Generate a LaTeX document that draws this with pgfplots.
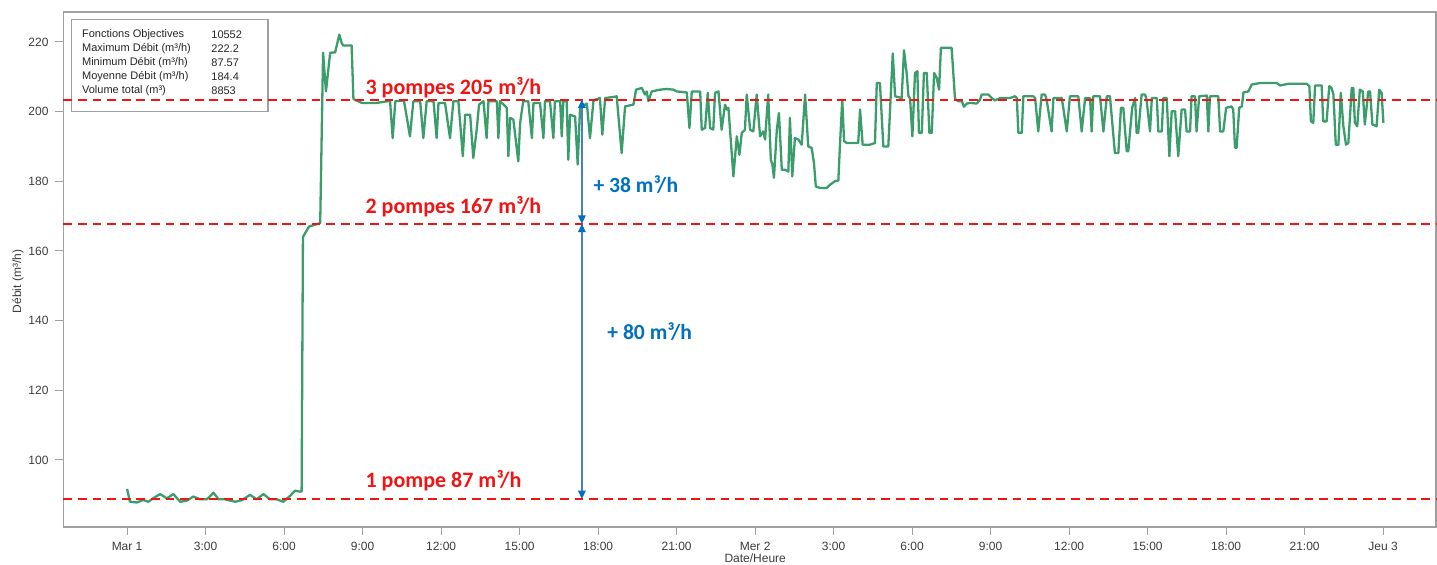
\documentclass[border=0pt]{standalone}
\usepackage{fontspec}
\setmainfont{Liberation Sans}
\newfontfamily\carlito{Carlito}
\usepackage{pgfplots}
\pgfplotsset{compat=1.18}
\usetikzlibrary{arrows.meta}
\definecolor{lgreen}{RGB}{59,157,108}
\definecolor{lred}{RGB}{240,20,20}
\definecolor{lblue}{RGB}{0,112,192}
\definecolor{arrowblue}{RGB}{74,126,192}
\definecolor{axgray}{RGB}{160,160,160}
\definecolor{txtgray}{RGB}{60,60,60}
\begin{document}
\begin{tikzpicture}
\path[use as bounding box] (-31.75pt,-19pt) rectangle (686.75pt,263.5pt);
\draw[axgray, line width=0.6pt, fill=white] (4.1pt,207.65pt) rectangle (102.25pt,253.85pt);
\begin{scope}[every node/.style={anchor=west, inner sep=0pt, font=\fontsize{5.5}{6.6}\selectfont, text=black!85}]
\node at (9.1pt,246.35pt) {Fonctions Objectives};
\node at (9.1pt,239.2pt) {Maximum Débit (m³/h)};
\node at (9.1pt,232.1pt) {Minimum Débit (m³/h)};
\node at (9.1pt,225pt) {Moyenne Débit (m³/h)};
\node at (9.1pt,218pt) {Volume total (m³)};
\node at (73.75pt,246.35pt) {10552};
\node at (73.75pt,239.2pt) {222.2};
\node at (73.75pt,232.1pt) {87.57};
\node at (73.75pt,225pt) {184.4};
\node at (73.75pt,218pt) {8853};
\end{scope}
\begin{axis}[
  at={(0pt,0pt)}, anchor=south west,
  scale only axis, width=686.25pt, height=257.5pt,
  xmin=-2.43, xmax=50.02, ymin=80.76, ymax=228.6,
  xtick={0,3,...,48},
  xticklabels={Mar 1,3:00,6:00,9:00,12:00,15:00,18:00,21:00,Mer 2,3:00,6:00,9:00,12:00,15:00,18:00,21:00,Jeu 3},
  ytick={100,120,...,220},
  /pgf/number format/assume math mode=true,
  xtick pos=bottom, ytick pos=left,
  tick align=outside, major tick length=4pt,
  tick style={axgray, line width=0.5pt},
  axis line style={axgray, line width=0.6pt},
  ticklabel style={font=\fontsize{6}{7}\selectfont, text=txtgray},
  xlabel={Date/Heure}, ylabel={Débit (m³/h)},
  label style={font=\fontsize{6}{7}\selectfont, text=txtgray},
  xlabel style={at={(axis description cs:0.504,-0.06)}, anchor=center},
  ylabel style={at={(axis description cs:-0.0332,0.4767)}, anchor=center, rotate=0},
  clip=false,
]
\addplot[lgreen, line width=1.15pt, line join=round] coordinates {
(0,91.7) (0.11,88.0) (0.37,87.8) (0.62,88.5) (0.81,88.0) (1.0,89.0) (1.26,90.2) (1.52,89.0) (1.77,90.2) (2.03,88.0) (2.28,88.3) (2.53,89.5) (2.79,88.7) (3.05,88.7) (3.30,90.6) (3.5,88.7) (3.75,88.7) (3.95,88.3) (4.14,88.0) (4.40,88.5) (4.70,90.0) (4.95,88.7) (5.21,90.2) (5.46,88.7) (5.72,88.7) (5.97,88.0) (6.23,89.7) (6.42,91.2) (6.61,90.9) (6.67,91.0)
(6.72,164) (6.95,167) (7.38,168) (7.49,216.9) (7.6,205.8) (7.76,216.9) (7.95,217) (8.11,222.1) (8.2,219.7) (8.26,219) (8.58,219) (8.65,203.6) (8.97,202.5) (9.54,202.5) (9.98,203)
(10.05,203) (10.15,192.4) (10.25,203) (10.58,203.2) (10.81,192.9) (10.94,203) (11.2,203) (11.32,192.4) (11.45,203) (11.71,203) (11.83,192.4) (11.9,202.5) (12.15,202.5) (12.34,192.4) (12.47,203) (12.66,203) (12.83,187.2) (12.92,199.1) (13.11,199.1) (13.23,186.7) (13.36,194.8) (13.45,202.0) (13.62,203) (13.74,192.4) (13.81,203) (14.13,203) (14.19,192.4) (14.25,203) (14.51,201.1) (14.57,187.2) (14.64,198.2) (14.76,197.7) (14.95,185.7) (15.02,196.8) (15.14,203) (15.33,203) (15.47,192.4) (15.53,202.5) (15.78,202.5) (15.91,192.4) (15.97,203) (16.16,203) (16.29,192.4) (16.35,203) (16.55,203) (16.61,192.9) (16.67,203) (16.8,203) (16.86,186.2) (16.93,199.1) (17.12,198.6) (17.22,184.8) (17.31,201.1) (17.57,202.3) (17.69,192.4) (17.82,203) (17.88,203.4) (18.07,203.9) (18.16,193.4) (18.27,203.9) (18.58,204.2) (18.71,204.4) (18.90,188.1) (19.03,201.5) (19.35,202) (19.45,206.3) (19.67,206.8) (19.79,204.9) (19.86,205.8) (19.92,203) (20.05,205.8) (20.37,206.3) (20.62,206.5) (20.88,206.3) (21.0,205.8) (21.39,205.5) (21.49,195.3) (21.58,205.8) (21.9,205.8) (21.96,194.8) (22.09,195.3) (22.19,205.4) (22.28,195.3) (22.4,194.8) (22.47,205.4) (22.6,205.8) (22.72,194.8) (22.85,202) (22.92,200.6) (22.98,201.1) (23.17,181.4) (23.3,192.9) (23.4,187.6) (23.49,193.9) (23.61,194.8) (23.68,204.9) (23.81,194.8) (23.93,194.3) (24.06,204.9) (24.19,192.9) (24.31,194.3) (24.38,192) (24.5,204.9) (24.6,186.2) (24.66,184.8) (24.72,181) (24.83,194.8) (24.91,199.6) (25.02,183.3) (25.14,183.3) (25.27,182.8) (25.33,198.2) (25.42,181.4) (25.52,192.4) (25.65,192) (25.78,190.5) (25.91,204.9) (26.03,190) (26.16,189.6) (26.25,185.2) (26.32,178.5) (26.48,178.1) (26.74,178.1) (26.86,179) (27.05,180) (27.18,180.2) (27.24,190) (27.33,203.4) (27.4,191.5) (27.5,191) (27.94,191) (28.01,200.6) (28.11,190.5) (28.39,190.5) (28.58,191) (28.65,208.2) (28.77,208.2) (28.9,190) (29.09,190) (29.26,216.7) (29.35,204.4) (29.6,203.9) (29.69,217.6) (29.79,211.1) (29.86,204.4) (29.92,203.9) (30.01,192.9) (30.11,211.1) (30.2,211.6) (30.26,193.9) (30.37,193.9) (30.45,211.1) (30.56,211.1) (30.66,193.9) (30.75,193.9) (30.84,211.1) (30.94,209.7) (31.03,206.3) (31.1,218.3) (31.51,218.3) (31.64,203.6) (31.77,203) (31.9,203) (31.98,201.4) (32.09,202.3) (32.21,202.5) (32.47,202.3) (32.59,203.4) (32.66,204.9) (32.91,204.9) (33.04,203.9) (33.17,203.2) (33.36,203.9) (33.74,203.9) (33.93,204.4) (34.0,203.9) (34.06,193.9) (34.19,193.9) (34.25,204.4) (34.63,204.4) (34.7,203.9) (34.82,194.3) (34.95,204.9) (35.08,204.9) (35.14,203.4) (35.33,194.3) (35.4,203.9) (35.72,203.9) (35.91,194.3) (36.03,204.4) (36.35,204.4) (36.48,194.3) (36.61,203.9) (36.8,203.9) (36.86,194.3) (36.92,204.4) (37.18,204.4) (37.31,194.3) (37.44,204.4) (37.56,204.4) (37.75,188.1) (37.88,188.1) (37.98,201.1) (38.07,201.1) (38.2,188.6) (38.26,188.6) (38.41,201.1) (38.52,203.9) (38.58,193.9) (38.64,193.9) (38.77,204.9) (38.9,204.9) (38.96,203.4) (39.09,194.3) (39.16,203.9) (39.35,203.9) (39.41,194.3) (39.54,194.3) (39.6,203.9) (39.73,203.9) (39.83,187.2) (39.92,200.1) (40.05,200.1) (40.17,187.2) (40.3,200.6) (40.43,200.6) (40.49,194.3) (40.62,194.3) (40.68,204.4) (40.81,204.4) (40.87,194.3) (40.97,204.4) (41.26,204.6) (41.32,194.3) (41.38,204.4) (41.7,204.4) (41.77,194.3) (41.89,194.3) (42.0,201.1) (42.21,201.5) (42.27,200.6) (42.34,189.6) (42.4,189.6) (42.5,201.1) (42.6,201.5) (42.66,205.5) (42.85,205.8) (42.98,207.8) (43.3,208.2) (43.93,208.2) (44.06,207.5) (44.25,207.8) (44.38,208.0) (45.08,208.0) (45.18,207.3) (45.24,197.2) (45.33,196.8) (45.4,207.5) (45.65,207.5) (45.71,197.2) (45.84,197.2) (45.94,207.3) (46.03,206.8) (46.1,204.9) (46.19,190.5) (46.29,190.5) (46.38,205.4) (46.48,195.8) (46.58,190.5) (46.67,191.0) (46.8,206.8) (46.86,206.8) (46.92,196.8) (47.01,195.8) (47.11,206.3) (47.22,205.8) (47.3,196.3) (47.43,205.8) (47.5,205.8) (47.59,196.3) (47.75,195.8) (47.85,206.3) (47.94,205.4) (48.01,196.8)
};
\addplot[lred, line width=1pt, dash pattern=on 4.4pt off 2.9pt] coordinates {(-2.43,203.45) (50.02,203.45)};
\addplot[lred, line width=1pt, dash pattern=on 4.4pt off 2.9pt] coordinates {(-2.43,167.8) (50.02,167.8)};
\addplot[lred, line width=1pt, dash pattern=on 4.4pt off 2.9pt] coordinates {(-2.43,88.8) (50.02,88.8)};
\draw[arrowblue, line width=0.7pt, {Triangle[length=4.2pt,width=3.8pt,color=lblue]}-{Triangle[length=4.2pt,width=3.8pt,color=lblue]}] (axis cs:17.38,167.8) -- (axis cs:17.38,203.45);
\draw[arrowblue, line width=0.7pt, {Triangle[length=4.2pt,width=3.8pt,color=lblue]}-{Triangle[length=4.2pt,width=3.8pt,color=lblue]}] (axis cs:17.38,88.8) -- (axis cs:17.38,167.8);
\begin{scope}[every node/.style={anchor=west, inner sep=0pt, font=\carlito\bfseries\fontsize{11}{13}\selectfont}]
\node[text=lred] at (axis cs:9.1,206.8) {3 pompes 205 m³/h};
\node[text=lred] at (axis cs:9.1,172.7) {2 pompes 167 m³/h};
\node[text=lred] at (axis cs:9.1,94.06) {1 pompe 87 m³/h};
\end{scope}
\begin{scope}[every node/.style={anchor=west, inner sep=0pt, font=\carlito\bfseries\fontsize{10.8}{13}\selectfont}]
\node[text=lblue] at (axis cs:17.81,179.0) {+ 38 m³/h};
\node[text=lblue] at (axis cs:18.34,136.8) {+ 80 m³/h};
\end{scope}
\end{axis}
\end{tikzpicture}
\end{document}
